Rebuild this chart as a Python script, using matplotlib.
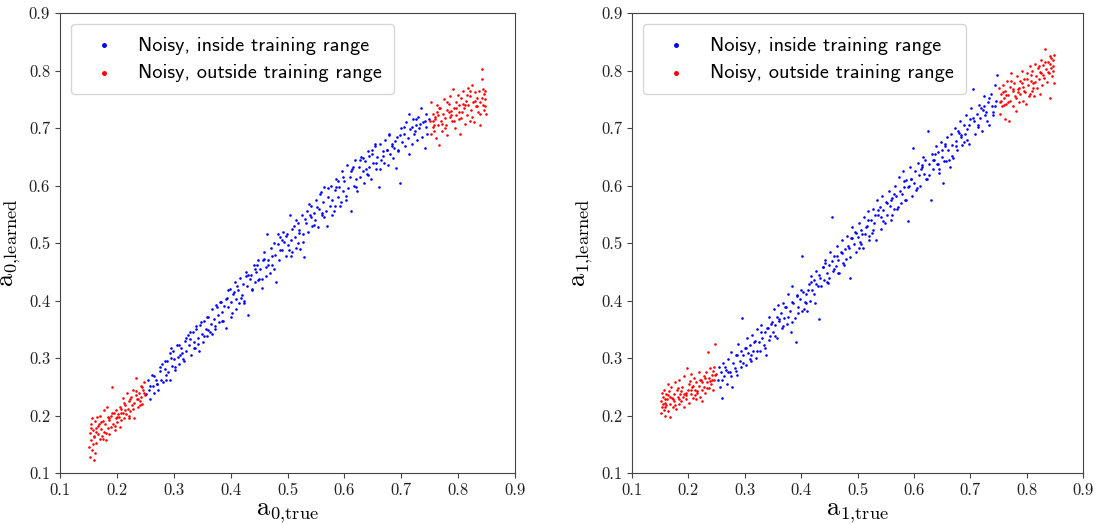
import matplotlib
matplotlib.use("Agg")
import matplotlib.pyplot as plt

# --- data (left: a0, right: a1) ---
a0_in_true = [
    0.252, 0.255, 0.257, 0.259, 0.261, 0.263, 0.266, 0.268, 0.270, 0.272,
    0.275, 0.277, 0.279, 0.281, 0.284, 0.286, 0.288, 0.290, 0.293, 0.295,
    0.297, 0.299, 0.301, 0.303, 0.306, 0.308, 0.310, 0.313, 0.315, 0.318,
    0.320, 0.322, 0.325, 0.327, 0.329, 0.331, 0.334, 0.336, 0.338, 0.340,
    0.343, 0.345, 0.347, 0.350, 0.352, 0.354, 0.357, 0.359, 0.361, 0.364,
    0.366, 0.368, 0.371, 0.373, 0.375, 0.378, 0.380, 0.382, 0.385, 0.387,
    0.389, 0.392, 0.394, 0.396, 0.399, 0.401, 0.403, 0.406, 0.408, 0.410,
    0.413, 0.415, 0.417, 0.420, 0.422, 0.424, 0.427, 0.429, 0.431, 0.434,
    0.436, 0.438, 0.441, 0.443, 0.445, 0.448, 0.450, 0.452, 0.455, 0.457,
    0.459, 0.462, 0.464, 0.466, 0.469, 0.471, 0.473, 0.476, 0.478, 0.480,
    0.483, 0.485, 0.487, 0.490, 0.492, 0.494, 0.497, 0.499, 0.501, 0.504,
    0.506, 0.508, 0.511, 0.513, 0.515, 0.518, 0.520, 0.522, 0.525, 0.527,
    0.529, 0.532, 0.534, 0.536, 0.539, 0.541, 0.543, 0.546, 0.548, 0.550,
    0.553, 0.555, 0.557, 0.560, 0.562, 0.564, 0.567, 0.569, 0.571, 0.574,
    0.576, 0.578, 0.581, 0.583, 0.585, 0.588, 0.590, 0.592, 0.595, 0.597,
    0.599, 0.602, 0.604, 0.606, 0.609, 0.611, 0.613, 0.616, 0.618, 0.620,
    0.623, 0.625, 0.627, 0.630, 0.632, 0.634, 0.637, 0.639, 0.641, 0.644,
    0.646, 0.648, 0.651, 0.653, 0.655, 0.658, 0.660, 0.662, 0.665, 0.667,
    0.669, 0.672, 0.674, 0.676, 0.679, 0.681, 0.683, 0.686, 0.688, 0.690,
    0.693, 0.695, 0.697, 0.700, 0.702, 0.704, 0.707, 0.709, 0.711, 0.714,
    0.716, 0.718, 0.721, 0.723, 0.725, 0.728, 0.730, 0.732, 0.735, 0.737,
    0.739, 0.741, 0.744, 0.746, 0.748,
    0.412, 0.287, 0.633, 0.521, 0.358, 0.694, 0.455, 0.578, 0.309, 0.741,
    0.265, 0.497, 0.384, 0.612, 0.546, 0.431, 0.678, 0.336, 0.559, 0.472,
    0.724, 0.401, 0.293, 0.649, 0.518, 0.367, 0.589, 0.446, 0.705, 0.329,
    0.476, 0.621, 0.259, 0.537, 0.392, 0.668, 0.423, 0.583, 0.348, 0.502,
    0.714, 0.276, 0.642, 0.463, 0.561, 0.317, 0.684, 0.438, 0.603, 0.376,
    0.528, 0.733, 0.284, 0.656, 0.491, 0.409, 0.571, 0.354, 0.697, 0.449,
    0.615, 0.302, 0.541, 0.427, 0.662, 0.383, 0.508, 0.743, 0.271, 0.594,
    0.466, 0.339, 0.627, 0.552, 0.418, 0.689, 0.311, 0.483, 0.597, 0.372,
    0.515, 0.653, 0.442, 0.726, 0.296, 0.565, 0.395, 0.638, 0.507, 0.343,
    0.675, 0.459, 0.586, 0.322, 0.531, 0.719, 0.404, 0.644, 0.487, 0.361,
]
a0_in_learned = [
    0.238, 0.262, 0.245, 0.228, 0.270, 0.251, 0.240, 0.262, 0.255, 0.245,
    0.278, 0.262, 0.290, 0.258, 0.281, 0.270, 0.295, 0.275, 0.262, 0.300,
    0.286, 0.312, 0.298, 0.280, 0.322, 0.302, 0.290, 0.318, 0.308, 0.295,
    0.330, 0.312, 0.340, 0.322, 0.333, 0.305, 0.345, 0.328, 0.318, 0.350,
    0.335, 0.312, 0.358, 0.342, 0.328, 0.365, 0.350, 0.338, 0.372, 0.345,
    0.360, 0.385, 0.368, 0.350, 0.392, 0.375, 0.362, 0.398, 0.380, 0.365,
    0.390, 0.352, 0.405, 0.388, 0.420, 0.398, 0.378, 0.415, 0.432, 0.402,
    0.418, 0.395, 0.440, 0.410, 0.428, 0.400, 0.450, 0.425, 0.375, 0.438,
    0.445, 0.420, 0.462, 0.432, 0.450, 0.470, 0.438, 0.455, 0.422, 0.470,
    0.485, 0.458, 0.515, 0.470, 0.448, 0.492, 0.462, 0.500, 0.480, 0.432,
    0.498, 0.470, 0.510, 0.488, 0.520, 0.502, 0.478, 0.515, 0.496, 0.548,
    0.505, 0.485, 0.530, 0.510, 0.540, 0.500, 0.522, 0.490, 0.548, 0.515,
    0.475, 0.535, 0.555, 0.520, 0.548, 0.565, 0.530, 0.552, 0.540, 0.575,
    0.528, 0.560, 0.585, 0.548, 0.572, 0.598, 0.555, 0.530, 0.580, 0.565,
    0.600, 0.575, 0.555, 0.592, 0.612, 0.580, 0.598, 0.565, 0.625, 0.590,
    0.608, 0.575, 0.635, 0.595, 0.615, 0.555, 0.628, 0.600, 0.645, 0.612,
    0.590, 0.632, 0.615, 0.650, 0.625, 0.605, 0.642, 0.620, 0.660, 0.632,
    0.612, 0.655, 0.640, 0.668, 0.628, 0.650, 0.598, 0.672, 0.645, 0.660,
    0.640, 0.680, 0.662, 0.635, 0.690, 0.655, 0.672, 0.648, 0.665, 0.630,
    0.685, 0.660, 0.605, 0.700, 0.675, 0.690, 0.668, 0.710, 0.682, 0.655,
    0.698, 0.672, 0.715, 0.690, 0.705, 0.680, 0.720, 0.700, 0.735, 0.685,
    0.710, 0.665, 0.702, 0.690, 0.715,
    0.425, 0.262, 0.648, 0.518, 0.372, 0.662, 0.438, 0.548, 0.322, 0.712,
    0.268, 0.512, 0.365, 0.625, 0.532, 0.445, 0.688, 0.318, 0.588, 0.478,
    0.695, 0.372, 0.308, 0.662, 0.535, 0.342, 0.608, 0.462, 0.702, 0.345,
    0.455, 0.598, 0.252, 0.568, 0.402, 0.652, 0.395, 0.565, 0.362, 0.488,
    0.725, 0.285, 0.618, 0.442, 0.552, 0.298, 0.668, 0.418, 0.582, 0.388,
    0.502, 0.708, 0.295, 0.640, 0.505, 0.385, 0.595, 0.338, 0.688, 0.435,
    0.632, 0.285, 0.545, 0.442, 0.628, 0.398, 0.525, 0.725, 0.255, 0.572,
    0.462, 0.355, 0.645, 0.562, 0.405, 0.678, 0.305, 0.515, 0.615, 0.355,
    0.492, 0.672, 0.455, 0.715, 0.318, 0.545, 0.418, 0.628, 0.478, 0.325,
    0.662, 0.472, 0.598, 0.335, 0.542, 0.702, 0.412, 0.652, 0.488, 0.348,
]
a0_out_true = [
    0.151, 0.152, 0.153, 0.154, 0.155, 0.156, 0.157, 0.158, 0.159, 0.160,
    0.161, 0.162, 0.163, 0.164, 0.166, 0.167, 0.168, 0.170, 0.171, 0.172,
    0.174, 0.175, 0.177, 0.178, 0.180, 0.181, 0.183, 0.184, 0.186, 0.187,
    0.189, 0.190, 0.192, 0.193, 0.195, 0.196, 0.198, 0.199, 0.201, 0.202,
    0.204, 0.205, 0.207, 0.208, 0.210, 0.211, 0.213, 0.214, 0.216, 0.218,
    0.219, 0.221, 0.222, 0.224, 0.225, 0.227, 0.228, 0.230, 0.231, 0.233,
    0.234, 0.236, 0.237, 0.239, 0.240, 0.242, 0.243, 0.245, 0.246, 0.248,
    0.249,
    0.163, 0.208, 0.187, 0.241, 0.155, 0.224, 0.196, 0.172, 0.233, 0.181,
    0.215, 0.158, 0.247, 0.201, 0.176, 0.229, 0.192, 0.167, 0.238, 0.212,
    0.184, 0.159, 0.221, 0.205, 0.244,
    0.751, 0.752, 0.753, 0.755, 0.756, 0.758, 0.759, 0.761, 0.762, 0.764,
    0.765, 0.767, 0.768, 0.770, 0.771, 0.773, 0.775, 0.776, 0.778, 0.780,
    0.781, 0.783, 0.785, 0.786, 0.788, 0.789, 0.791, 0.793, 0.794, 0.796,
    0.797, 0.799, 0.801, 0.802, 0.804, 0.805, 0.807, 0.809, 0.810, 0.812,
    0.813, 0.815, 0.817, 0.818, 0.820, 0.821, 0.823, 0.825, 0.826, 0.828,
    0.829, 0.831, 0.833, 0.834, 0.836, 0.838, 0.839, 0.841, 0.842, 0.844,
    0.845, 0.846, 0.847, 0.848, 0.849,
    0.763, 0.808, 0.787, 0.841, 0.755, 0.824, 0.796, 0.772, 0.833, 0.781,
    0.815, 0.758, 0.847, 0.801, 0.776, 0.829, 0.792, 0.767, 0.838, 0.812,
    0.784, 0.759, 0.821, 0.805, 0.844,
]
a0_out_learned = [
    0.145, 0.170, 0.128, 0.185, 0.158, 0.195, 0.140, 0.175, 0.122, 0.162,
    0.190, 0.135, 0.178, 0.152, 0.198, 0.168, 0.185, 0.160, 0.200, 0.176,
    0.165, 0.190, 0.210, 0.172, 0.185, 0.158, 0.215, 0.178, 0.192, 0.168,
    0.180, 0.200, 0.250, 0.185, 0.205, 0.175, 0.195, 0.210, 0.188, 0.202,
    0.198, 0.180, 0.212, 0.192, 0.230, 0.205, 0.195, 0.218, 0.202, 0.240,
    0.212, 0.200, 0.225, 0.208, 0.232, 0.218, 0.245, 0.222, 0.195, 0.235,
    0.265, 0.228, 0.215, 0.240, 0.225, 0.252, 0.232, 0.220, 0.245, 0.258,
    0.235,
    0.172, 0.205, 0.195, 0.218, 0.178, 0.228, 0.182, 0.188, 0.242, 0.170,
    0.210, 0.150, 0.240, 0.198, 0.160, 0.212, 0.205, 0.182, 0.228, 0.222,
    0.198, 0.165, 0.195, 0.215, 0.250,
    0.712, 0.690, 0.745, 0.702, 0.725, 0.695, 0.715, 0.682, 0.740, 0.705,
    0.722, 0.670, 0.735, 0.712, 0.695, 0.725, 0.750, 0.718, 0.705, 0.732,
    0.688, 0.742, 0.720, 0.755, 0.730, 0.712, 0.768, 0.735, 0.700, 0.745,
    0.722, 0.758, 0.715, 0.740, 0.690, 0.752, 0.728, 0.765, 0.735, 0.708,
    0.748, 0.722, 0.770, 0.740, 0.712, 0.755, 0.732, 0.775, 0.745, 0.710,
    0.762, 0.738, 0.752, 0.728, 0.765, 0.745, 0.705, 0.785, 0.803, 0.740,
    0.760, 0.732, 0.750, 0.765, 0.725,
    0.728, 0.742, 0.722, 0.752, 0.712, 0.720, 0.735, 0.708, 0.738, 0.745,
    0.758, 0.705, 0.738, 0.728, 0.700, 0.748, 0.712, 0.735, 0.725, 0.740,
    0.728, 0.720, 0.765, 0.718, 0.768,
]

a1_in_true = [
    0.252, 0.254, 0.256, 0.258, 0.260, 0.262, 0.264, 0.266, 0.268, 0.270,
    0.273, 0.275, 0.277, 0.279, 0.282, 0.284, 0.286, 0.288, 0.291, 0.293,
    0.295, 0.297, 0.300, 0.302, 0.304, 0.306, 0.309, 0.311, 0.313, 0.315,
    0.318, 0.320, 0.322, 0.325, 0.327, 0.329, 0.331, 0.334, 0.336, 0.338,
    0.341, 0.343, 0.345, 0.347, 0.350, 0.352, 0.354, 0.357, 0.359, 0.361,
    0.364, 0.366, 0.368, 0.370, 0.373, 0.375, 0.377, 0.380, 0.382, 0.384,
    0.386, 0.389, 0.391, 0.393, 0.395, 0.398, 0.400, 0.402, 0.405, 0.407,
    0.409, 0.411, 0.414, 0.416, 0.418, 0.420, 0.423, 0.425, 0.427, 0.430,
    0.432, 0.434, 0.436, 0.439, 0.441, 0.443, 0.445, 0.448, 0.450, 0.452,
    0.455, 0.457, 0.459, 0.461, 0.464, 0.466, 0.468, 0.470, 0.473, 0.475,
    0.477, 0.480, 0.482, 0.484, 0.486, 0.489, 0.491, 0.493, 0.495, 0.498,
    0.500, 0.502, 0.505, 0.507, 0.509, 0.511, 0.514, 0.516, 0.518, 0.520,
    0.523, 0.525, 0.527, 0.530, 0.532, 0.534, 0.536, 0.539, 0.541, 0.543,
    0.545, 0.548, 0.550, 0.552, 0.555, 0.557, 0.559, 0.561, 0.564, 0.566,
    0.568, 0.570, 0.573, 0.575, 0.577, 0.580, 0.582, 0.584, 0.586, 0.589,
    0.591, 0.593, 0.595, 0.598, 0.600, 0.602, 0.605, 0.607, 0.609, 0.611,
    0.614, 0.616, 0.618, 0.620, 0.623, 0.625, 0.627, 0.630, 0.632, 0.634,
    0.636, 0.639, 0.641, 0.643, 0.645, 0.648, 0.650, 0.652, 0.655, 0.657,
    0.659, 0.661, 0.664, 0.666, 0.668, 0.670, 0.673, 0.675, 0.677, 0.680,
    0.682, 0.684, 0.686, 0.689, 0.691, 0.693, 0.695, 0.698, 0.700, 0.702,
    0.705, 0.707, 0.709, 0.711, 0.714, 0.716, 0.718, 0.720, 0.723, 0.725,
    0.727, 0.730, 0.732, 0.734, 0.736, 0.739, 0.741, 0.743, 0.745, 0.748,
    0.412, 0.287, 0.633, 0.521, 0.358, 0.694, 0.455, 0.578, 0.309, 0.741,
    0.265, 0.497, 0.384, 0.612, 0.546, 0.431, 0.678, 0.336, 0.559, 0.472,
    0.724, 0.401, 0.293, 0.649, 0.518, 0.367, 0.589, 0.446, 0.705, 0.329,
    0.476, 0.621, 0.259, 0.537, 0.392, 0.668, 0.423, 0.583, 0.348, 0.502,
    0.714, 0.276, 0.642, 0.463, 0.561, 0.317, 0.684, 0.438, 0.603, 0.376,
    0.528, 0.733, 0.284, 0.656, 0.491, 0.409, 0.571, 0.354, 0.697, 0.449,
    0.615, 0.302, 0.541, 0.427, 0.662, 0.383, 0.508, 0.743, 0.271, 0.594,
    0.466, 0.339, 0.627, 0.552, 0.418, 0.689, 0.311, 0.483, 0.597, 0.372,
    0.515, 0.653, 0.442, 0.726, 0.296, 0.565, 0.395, 0.638, 0.507, 0.343,
    0.675, 0.459, 0.586, 0.322, 0.531, 0.719, 0.404, 0.644, 0.487, 0.361,
]
a1_in_learned = [
    0.262, 0.285, 0.250, 0.275, 0.230, 0.292, 0.268, 0.280, 0.255, 0.298,
    0.275, 0.310, 0.250, 0.292, 0.282, 0.305, 0.270, 0.325, 0.295, 0.285,
    0.370, 0.305, 0.318, 0.288, 0.335, 0.308, 0.322, 0.295, 0.340, 0.312,
    0.330, 0.300, 0.350, 0.328, 0.312, 0.358, 0.335, 0.322, 0.345, 0.305,
    0.352, 0.372, 0.338, 0.360, 0.345, 0.385, 0.358, 0.335, 0.392, 0.365,
    0.378, 0.352, 0.395, 0.370, 0.388, 0.360, 0.412, 0.382, 0.345, 0.425,
    0.395, 0.370, 0.328, 0.410, 0.388, 0.402, 0.418, 0.478, 0.385, 0.398,
    0.412, 0.382, 0.428, 0.400, 0.442, 0.418, 0.435, 0.395, 0.452, 0.425,
    0.368, 0.440, 0.425, 0.458, 0.435, 0.470, 0.448, 0.430, 0.462, 0.485,
    0.545, 0.452, 0.478, 0.460, 0.495, 0.470, 0.448, 0.485, 0.505, 0.465,
    0.490, 0.472, 0.512, 0.492, 0.440, 0.508, 0.528, 0.498, 0.520, 0.485,
    0.510, 0.535, 0.502, 0.522, 0.492, 0.545, 0.515, 0.530, 0.555, 0.505,
    0.540, 0.518, 0.560, 0.535, 0.505, 0.575, 0.548, 0.562, 0.525, 0.582,
    0.558, 0.535, 0.572, 0.548, 0.590, 0.565, 0.540, 0.578, 0.560, 0.600,
    0.582, 0.560, 0.615, 0.590, 0.570, 0.625, 0.598, 0.575, 0.610, 0.538,
    0.600, 0.632, 0.612, 0.665, 0.605, 0.625, 0.595, 0.640, 0.618, 0.600,
    0.632, 0.650, 0.620, 0.645, 0.612, 0.695, 0.638, 0.575, 0.655, 0.628,
    0.645, 0.668, 0.638, 0.658, 0.622, 0.675, 0.650, 0.605, 0.668, 0.642,
    0.685, 0.662, 0.632, 0.690, 0.670, 0.648, 0.700, 0.678, 0.662, 0.692,
    0.712, 0.685, 0.670, 0.705, 0.690, 0.722, 0.698, 0.672, 0.715, 0.735,
    0.768, 0.712, 0.690, 0.725, 0.705, 0.740, 0.718, 0.695, 0.732, 0.755,
    0.728, 0.712, 0.745, 0.705, 0.760, 0.738, 0.722, 0.775, 0.748, 0.792,
    0.418, 0.305, 0.645, 0.512, 0.372, 0.680, 0.468, 0.585, 0.298, 0.728,
    0.285, 0.518, 0.362, 0.628, 0.538, 0.445, 0.695, 0.318, 0.575, 0.482,
    0.738, 0.382, 0.312, 0.662, 0.540, 0.355, 0.598, 0.432, 0.718, 0.345,
    0.462, 0.612, 0.262, 0.558, 0.408, 0.652, 0.412, 0.608, 0.362, 0.492,
    0.702, 0.268, 0.638, 0.478, 0.548, 0.328, 0.688, 0.458, 0.592, 0.372,
    0.522, 0.752, 0.278, 0.672, 0.508, 0.395, 0.562, 0.338, 0.705, 0.440,
    0.635, 0.318, 0.545, 0.428, 0.645, 0.398, 0.515, 0.738, 0.275, 0.612,
    0.448, 0.352, 0.618, 0.570, 0.432, 0.675, 0.305, 0.495, 0.582, 0.388,
    0.528, 0.642, 0.465, 0.722, 0.292, 0.585, 0.378, 0.655, 0.498, 0.332,
    0.668, 0.455, 0.575, 0.312, 0.548, 0.735, 0.415, 0.628, 0.475, 0.368,
]
a1_out_true = [
    0.151, 0.152, 0.153, 0.154, 0.155, 0.156, 0.157, 0.158, 0.159, 0.160,
    0.161, 0.162, 0.163, 0.164, 0.166, 0.167, 0.168, 0.170, 0.171, 0.172,
    0.174, 0.175, 0.177, 0.178, 0.180, 0.181, 0.183, 0.184, 0.186, 0.187,
    0.189, 0.190, 0.192, 0.193, 0.195, 0.196, 0.198, 0.199, 0.201, 0.202,
    0.204, 0.205, 0.207, 0.208, 0.210, 0.211, 0.213, 0.214, 0.216, 0.218,
    0.219, 0.221, 0.222, 0.224, 0.225, 0.227, 0.228, 0.230, 0.231, 0.233,
    0.234, 0.236, 0.237, 0.239, 0.240, 0.242, 0.243, 0.245, 0.246, 0.247,
    0.249,
    0.163, 0.208, 0.187, 0.241, 0.155, 0.224, 0.196, 0.172, 0.233, 0.181,
    0.215, 0.158, 0.247, 0.201, 0.176, 0.229, 0.192, 0.167, 0.238, 0.212,
    0.184, 0.159, 0.221, 0.205, 0.244,
    0.751, 0.752, 0.753, 0.755, 0.756, 0.758, 0.759, 0.761, 0.762, 0.764,
    0.765, 0.767, 0.768, 0.770, 0.771, 0.773, 0.775, 0.776, 0.778, 0.780,
    0.781, 0.783, 0.785, 0.786, 0.788, 0.789, 0.791, 0.793, 0.794, 0.796,
    0.797, 0.799, 0.801, 0.802, 0.804, 0.805, 0.807, 0.809, 0.810, 0.812,
    0.813, 0.815, 0.817, 0.818, 0.820, 0.821, 0.823, 0.825, 0.826, 0.828,
    0.829, 0.831, 0.833, 0.834, 0.836, 0.838, 0.839, 0.841, 0.842, 0.844,
    0.845, 0.846, 0.847, 0.848, 0.849,
    0.763, 0.808, 0.787, 0.841, 0.755, 0.824, 0.796, 0.772, 0.833, 0.781,
    0.815, 0.758, 0.847, 0.801, 0.776, 0.829, 0.792, 0.767, 0.838, 0.812,
    0.784, 0.759, 0.821, 0.805, 0.844,
]
a1_out_learned = [
    0.205, 0.225, 0.240, 0.215, 0.232, 0.210, 0.245, 0.222, 0.200, 0.238,
    0.218, 0.228, 0.255, 0.208, 0.242, 0.220, 0.198, 0.250, 0.230, 0.215,
    0.238, 0.225, 0.258, 0.212, 0.245, 0.232, 0.220, 0.262, 0.238, 0.225,
    0.250, 0.232, 0.215, 0.268, 0.240, 0.228, 0.282, 0.245, 0.222, 0.260,
    0.238, 0.272, 0.250, 0.230, 0.265, 0.245, 0.228, 0.258, 0.240, 0.275,
    0.252, 0.232, 0.262, 0.245, 0.225, 0.268, 0.250, 0.240, 0.275, 0.258,
    0.310, 0.248, 0.265, 0.282, 0.255, 0.270, 0.245, 0.285, 0.262, 0.325,
    0.272,
    0.235, 0.252, 0.242, 0.262, 0.220, 0.258, 0.235, 0.228, 0.248, 0.248,
    0.242, 0.215, 0.270, 0.255, 0.218, 0.265, 0.238, 0.232, 0.260, 0.235,
    0.228, 0.228, 0.262, 0.245, 0.278,
    0.770, 0.745, 0.725, 0.760, 0.738, 0.775, 0.752, 0.715, 0.765, 0.742,
    0.782, 0.758, 0.712, 0.772, 0.748, 0.795, 0.765, 0.738, 0.778, 0.755,
    0.730, 0.790, 0.768, 0.745, 0.782, 0.760, 0.800, 0.772, 0.748, 0.785,
    0.762, 0.742, 0.795, 0.775, 0.755, 0.808, 0.782, 0.765, 0.800, 0.778,
    0.755, 0.812, 0.790, 0.770, 0.805, 0.785, 0.760, 0.818, 0.795, 0.775,
    0.810, 0.788, 0.838, 0.802, 0.780, 0.815, 0.795, 0.752, 0.825, 0.805,
    0.790, 0.818, 0.800, 0.778, 0.828,
    0.758, 0.792, 0.770, 0.812, 0.748, 0.798, 0.765, 0.782, 0.815, 0.752,
    0.780, 0.762, 0.808, 0.785, 0.768, 0.792, 0.778, 0.745, 0.798, 0.770,
    0.762, 0.740, 0.808, 0.760, 0.822,
]

ticks = [0.1, 0.2, 0.3, 0.4, 0.5, 0.6, 0.7, 0.8, 0.9]
legend_labels = ["Noisy, inside training range", "Noisy, outside training range"]

plt.rcParams["font.family"] = "cmr10"
plt.rcParams["mathtext.fontset"] = "cm"
plt.rcParams["axes.formatter.use_mathtext"] = True

fig = plt.figure(figsize=(10.98, 5.25), dpi=100)
ax1 = fig.add_axes([0.0546, 0.099, 0.4145, 0.876])
ax2 = fig.add_axes([0.5756, 0.099, 0.4108, 0.876])

panels = [
    (ax1, a0_in_true, a0_in_learned, a0_out_true, a0_out_learned, "0"),
    (ax2, a1_in_true, a1_in_learned, a1_out_true, a1_out_learned, "1"),
]
for ax, xin, yin, xout, yout, idx in panels:
    ax.scatter(xin, yin, s=3.5, color="blue", linewidths=0, label=legend_labels[0])
    ax.scatter(xout, yout, s=3.5, color="red", linewidths=0, label=legend_labels[1])
    ax.set_xlim(0.1, 0.9)
    ax.set_ylim(0.1, 0.9)
    ax.set_xticks(ticks)
    ax.set_yticks(ticks)
    ax.set_xticklabels([f"{t:.1f}" for t in ticks])
    ax.set_yticklabels([f"{t:.1f}" for t in ticks])
    ax.tick_params(labelsize=12, length=3.5, color="#444444", labelcolor="#222222")
    for sp in ax.spines.values():
        sp.set_color("#444444")
    ax.set_xlabel(r"$\mathrm{a}_{" + idx + r"{,}\mathrm{true}}$", fontsize=19, labelpad=2)
    ax.set_ylabel(r"$\mathrm{a}_{" + idx + r"{,}\mathrm{learned}}$", fontsize=19, labelpad=4)
    ax.legend(loc="upper left", markerscale=1.9, handletextpad=0.7,
              prop={"family": "cmss10", "size": 14.6}, borderpad=0.6,
              labelspacing=0.45, borderaxespad=0.55)

fig.savefig("out.png", dpi=100)
